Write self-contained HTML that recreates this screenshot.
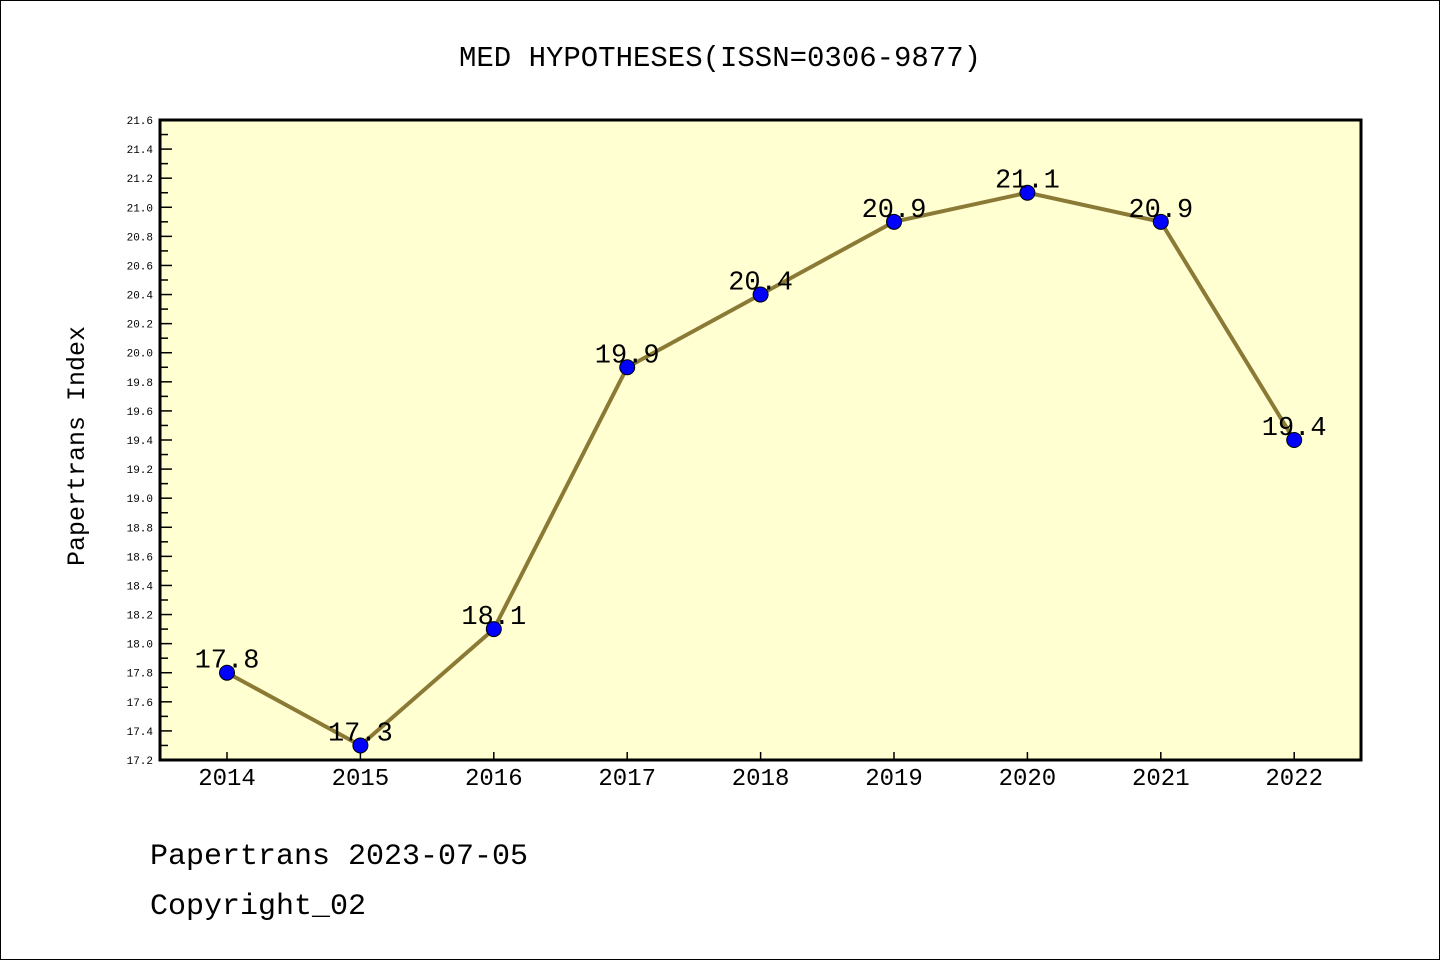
<!DOCTYPE html>
<html><head><meta charset="utf-8"><style>
body{margin:0;background:#fff;}
svg text{font-family:"Liberation Mono","DejaVu Sans Mono",monospace;}
</style></head><body>
<svg width="1440" height="960" xmlns="http://www.w3.org/2000/svg">
<rect x="0.5" y="0.5" width="1439" height="959" fill="#fff" stroke="#000"/>
<text x="720" y="66" font-size="29" text-anchor="middle">MED HYPOTHESES(ISSN=0306-9877)</text>
<rect x="160" y="120" width="1201" height="640" fill="#ffffd2"/>
<g id="axes"></g>
<g id="series"></g>
<rect x="160" y="120" width="1201" height="640" fill="none" stroke="#000" stroke-width="3"/>
<text transform="translate(84,446) rotate(-90)" font-size="25" text-anchor="middle">Papertrans Index</text>
<text x="150" y="864" font-size="30">Papertrans 2023-07-05</text>
<text x="150" y="914" font-size="30">Copyright_02</text>
</svg>
<script>
const categories=["2014","2015","2016","2017","2018","2019","2020","2021","2022"];
const values=[17.8,17.3,18.1,19.9,20.4,20.9,21.1,20.9,19.4];
const valueLabels=["17.8","17.3","18.1","19.9","20.4","20.9","21.1","20.9","19.4"];
const yMin=17.2,yMax=21.6;
const NS="http://www.w3.org/2000/svg";
function x(i){return 227+i*133.4;}
function y(v){return 760-(v-yMin)/(yMax-yMin)*640;}
function mk(t,a,p){const e=document.createElementNS(NS,t);for(const k in a)e.setAttribute(k,a[k]);p.appendChild(e);return e;}
const ax=document.getElementById('axes'),se=document.getElementById('series');
for(let k=0;k<=44;k++){
 const v=yMin+k*0.1,yy=y(v),major=k%2==0;
 const t=mk('line',{x1:160,x2:160+(major?12:8),y1:yy,y2:yy,stroke:'#000','stroke-width':1.5},ax);
 
 
 if(major){const l=mk('text',{x:153,y:yy+4,'font-size':11,'text-anchor':'end'},ax);l.textContent=v.toFixed(1);
 
 }
}
categories.forEach((c,i)=>{
 const t=mk('line',{x1:x(i),x2:x(i),y1:760,y2:752,stroke:'#000','stroke-width':1.5},ax);
 
 
 const l=mk('text',{x:x(i),y:785,'font-size':24,'text-anchor':'middle'},ax);l.textContent=c;
 
 
});
const pl=mk('polyline',{points:values.map((v,i)=>x(i)+','+y(v)).join(' '),fill:'none',stroke:'#8b7a35','stroke-width':4},se);


values.forEach((v,i)=>{
 const c=mk('circle',{cx:x(i),cy:y(v),r:7.5,fill:'#0000ff',stroke:'#000','stroke-width':1},se);
 
 
 const l=mk('text',{x:x(i),y:y(v)-5,'font-size':27,'text-anchor':'middle'},se);l.textContent=valueLabels[i];
 
 
});
</script>
</body></html>
